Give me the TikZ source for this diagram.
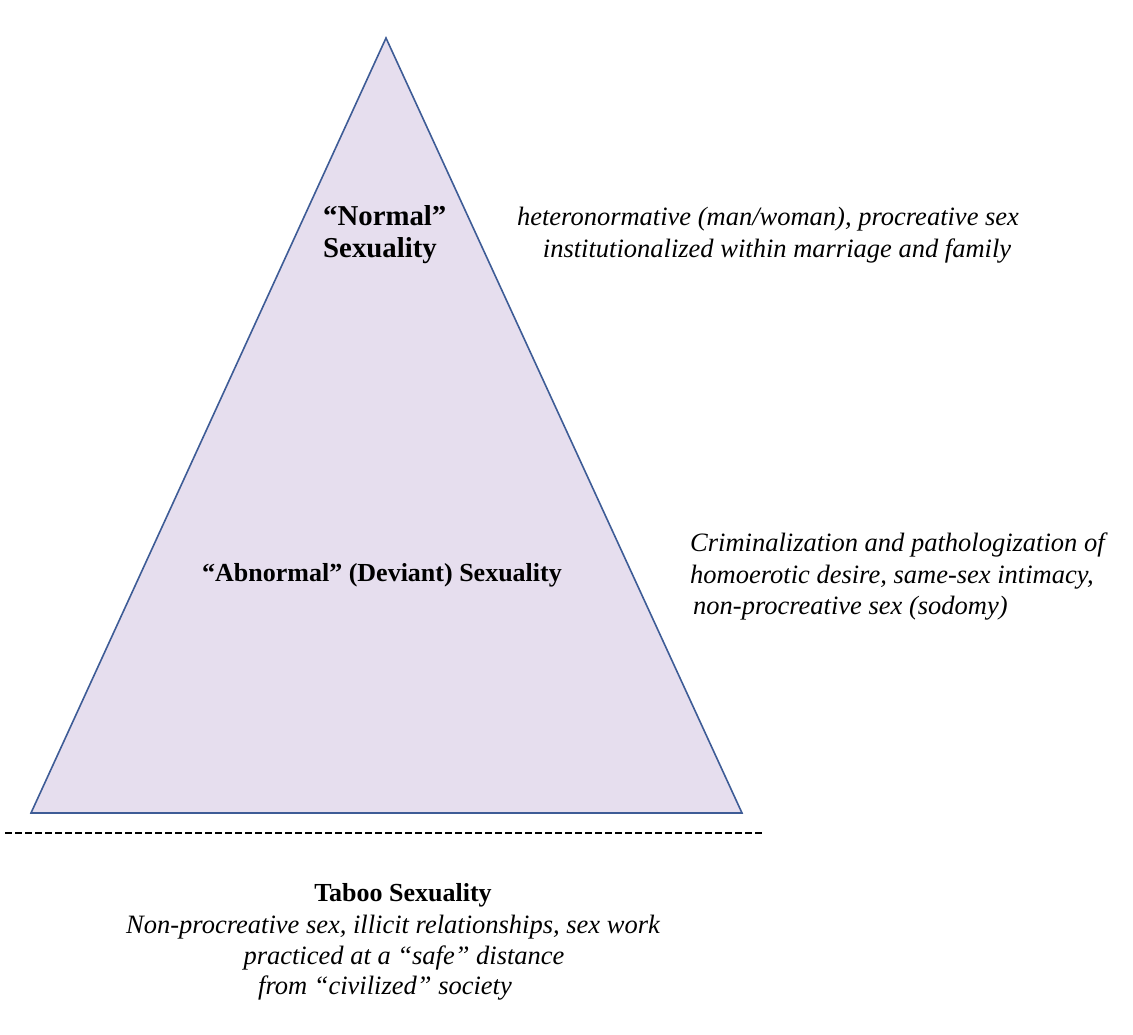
\documentclass[tikz,border=0pt]{standalone}
\usepackage{fontspec}
\setmainfont{Liberation Serif}
\usepackage{xcolor}
\usetikzlibrary{positioning}
\definecolor{pyrfill}{RGB}{230,222,238}
\definecolor{pyrdraw}{RGB}{62,92,150}

\begin{document}
\begin{tikzpicture}[
  x=1pt, y=-1pt,
  label/.style={inner sep=0pt, font=\fontsize{26}{32}\selectfont\bfseries, align=left},
  note/.style={inner sep=0pt, font=\fontsize{26.5}{31.5}\selectfont\itshape, align=left},
  pyramid/.style={draw=pyrdraw, fill=pyrfill, line width=1.6pt, line join=miter},
  border/.style={line width=2.8pt, dash pattern=on 7pt off 3pt},
]
\useasboundingbox (0,0) rectangle (1133,1034);

% Pyramid
\coordinate (apex) at (386,38);
\coordinate (bl) at (31,813);
\coordinate (br) at (742,813);
\draw[pyramid] (apex) -- (br) -- (bl) -- cycle;

% Taboo border
\coordinate (dl) at (5,833);
\coordinate (dr) at (765,833);
\draw[border] (dl) -- (dr);

% Levels inside the pyramid
\node[label, anchor=west, font=\fontsize{28.8}{32}\selectfont\bfseries] (normal) at (323,235) {``Normal''\\Sexuality};
\node[label] (abnormal) at (382,575) {``Abnormal'' (Deviant) Sexuality};

% Notes at the right
\node[note, align=center] (normnote) at (768,235) {heteronormative (man/woman), procreative sex\\\hspace*{18pt}institutionalized within marriage and family};
\node[note, anchor=west] (abnote) at (690,577) {Criminalization and pathologization of\\homoerotic desire, same-sex intimacy,\\\hspace*{3pt}non-procreative sex (sodomy)};

% Below the border
\node[label] (taboo) at (403,895) {Taboo Sexuality};
\node[note] (tabnote1) at (393,927) {Non-procreative sex, illicit relationships, sex work};
\node[note] (tabnote2) at (404,958) {practiced at a ``safe'' distance};
\node[note] (tabnote3) at (385,988) {from ``civilized'' society};
\end{tikzpicture}
\end{document}
